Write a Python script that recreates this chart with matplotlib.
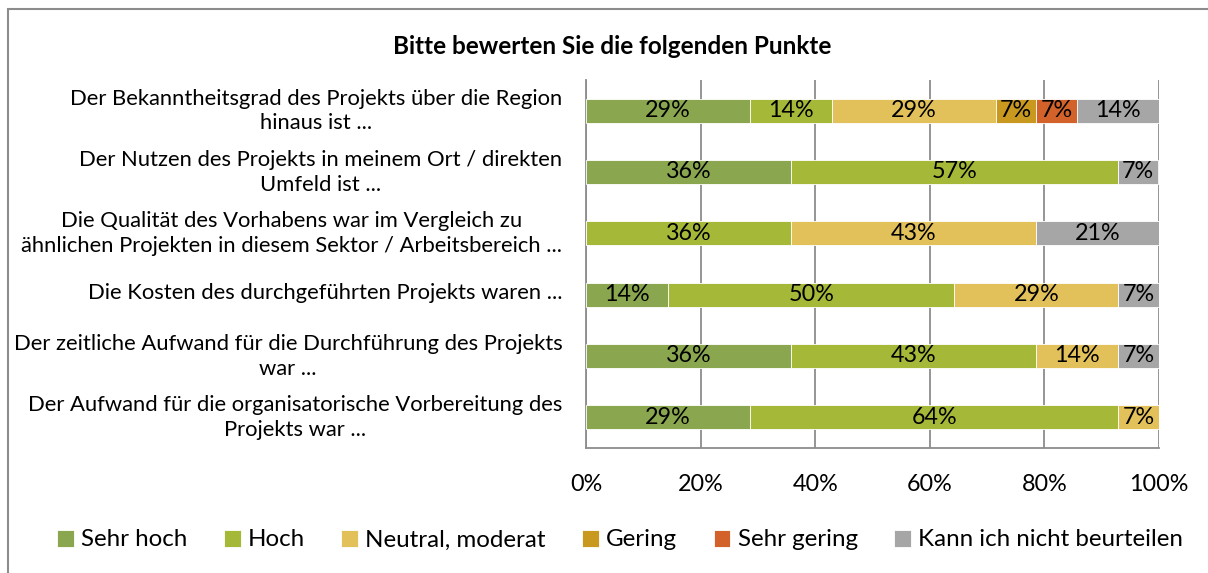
import numpy as np
import matplotlib
matplotlib.use('Agg')
import matplotlib.pyplot as plt
import matplotlib.transforms as mtransforms
from matplotlib.patches import Rectangle

plt.rcParams['font.family'] = ['Lato', 'DejaVu Sans']

# questions, top to bottom
questions = [
    'Der Bekanntheitsgrad des Projekts über die Region\nhinaus ist ...',
    'Der Nutzen des Projekts in meinem Ort / direkten\nUmfeld ist ...',
    'Die Qualität des Vorhabens war im Vergleich zu\nähnlichen Projekten in diesem Sektor / Arbeitsbereich ...',
    'Die Kosten des durchgeführten Projekts waren ...',
    'Der zeitliche Aufwand für die Durchführung des Projekts\nwar ...',
    'Der Aufwand für die organisatorische Vorbereitung des\nProjekts war ...',
]
categories = ['Sehr hoch', 'Hoch', 'Neutral, moderat', 'Gering', 'Sehr gering',
              'Kann ich nicht beurteilen']
colors = ['#8AA64F', '#A5B838', '#E2C05A', '#C9981F', '#D2622A', '#A6A6A6']

# share in % per category, one entry per question
sehr_hoch = [28.6, 35.7, 0.0, 14.3, 35.7, 28.6]
hoch = [14.3, 57.1, 35.7, 50.0, 42.9, 64.3]
neutral = [28.6, 0.0, 42.9, 28.6, 14.3, 7.1]
gering = [7.1, 0.0, 0.0, 0.0, 0.0, 0.0]
sehr_gering = [7.1, 0.0, 0.0, 0.0, 0.0, 0.0]
kann_nicht = [14.3, 7.1, 21.4, 7.1, 7.1, 0.0]
series = [sehr_hoch, hoch, neutral, gering, sehr_gering, kann_nicht]

W, H = 1208, 573
fig = plt.figure(figsize=(W / 100, H / 100), dpi=100)
ax = fig.add_axes([586 / W, 1 - 448 / H, (1159 - 586) / W, (448 - 80) / H])

y = np.arange(len(questions))
left = np.zeros(len(questions))
for name, vals, col in zip(categories, series, colors):
    vals = np.array(vals)
    bars = ax.barh(y, vals, left=left, height=0.39, color=col, label=name,
                   edgecolor='white', linewidth=0.6, zorder=3)
    for b, v in zip(bars, vals):
        if v > 0:
            ax.text(b.get_x() + b.get_width() / 2, b.get_y() + b.get_height() / 2,
                    f'{v:.0f}%', ha='center', va='center', fontsize=16.8,
                    color='black', zorder=4)
    left += vals

ax.set_xlim(0, 100)
ax.set_ylim(len(questions) - 0.5, -0.5)
ax.set_xticks(np.arange(0, 101, 20))
ax.set_xticklabels([f'{t}%' for t in range(0, 101, 20)], fontsize=16.8)
ax.set_yticks(y)
ax.set_yticklabels(questions, fontsize=15.8, multialignment='center',
                   linespacing=1.3)
ax.tick_params(length=0)
ax.tick_params(axis='y', pad=17)
ax.tick_params(axis='x', pad=19)
# nudge question labels up a little
shift = mtransforms.ScaledTranslation(0, 4 / 100, fig.dpi_scale_trans)
for lab in ax.get_yticklabels():
    lab.set_transform(lab.get_transform() + shift)
ax.grid(axis='x', color='#8C8C8C', lw=1.3, zorder=0)
for s in ['top', 'right']:
    ax.spines[s].set_visible(False)
for s in ['left', 'bottom']:
    ax.spines[s].set_color('#8C8C8C')
    ax.spines[s].set_linewidth(1.3)

fig.text(612 / W, 1 - 47 / H, 'Bitte bewerten Sie die folgenden Punkte',
         ha='center', va='center', fontsize=17.5, fontweight='bold')

fig.legend(loc='center', bbox_to_anchor=(620 / W, 1 - 540 / H), ncol=6,
           frameon=False, fontsize=17.4, handlelength=0.7, handleheight=0.7,
           handletextpad=0.3, columnspacing=1.5)

# outer chart frame
fig.patches.append(Rectangle((8 / W, -0.1), 1.1, 1.1 - 9 / H, transform=fig.transFigure,
                             fill=False, edgecolor='#8C8C8C', lw=1.5))

fig.savefig('out.png', dpi=100)
